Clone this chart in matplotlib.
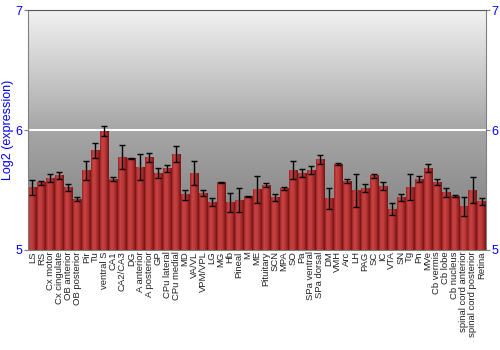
import numpy as np
import matplotlib
matplotlib.use("Agg")
import matplotlib.pyplot as plt
from matplotlib.colors import LinearSegmentedColormap

plt.rcParams['font.family'] = ['Liberation Sans', 'DejaVu Sans']

regions = ["LS", "RS", "Cx motor", "Cx cingulate", "OB anterior", "OB posterior",
           "Pir", "Tu", "ventral S", "CA1", "CA2/CA3", "DG", "A anterior",
           "A posterior", "GP", "CPu lateral", "CPu medial", "MD", "VA/VL",
           "VPM/VPL", "LG", "MG", "Hb", "Pineal", "M", "ME", "Pituitary", "SCN",
           "MPA", "SO", "Pa", "SPa ventral", "SPa dorsal", "DM", "VMH", "Arc",
           "LH", "PAG", "SC", "IC", "VTA", "SN", "Tg", "Pn", "MVe", "Cb vermis",
           "Cb lobe", "Cb nucleus", "spinal cord anterior",
           "spinal cord posterior", "Retina"]

expr = [5.52, 5.56, 5.60, 5.62, 5.52, 5.425, 5.66, 5.83, 5.99, 5.59, 5.775,
        5.76, 5.69, 5.77, 5.64, 5.68, 5.80, 5.46, 5.64, 5.475, 5.40, 5.56,
        5.395, 5.417, 5.444, 5.505, 5.54, 5.44, 5.51, 5.667, 5.64, 5.667,
        5.755, 5.43, 5.717, 5.575, 5.494, 5.517, 5.62, 5.533, 5.34, 5.44,
        5.525, 5.59, 5.683, 5.567, 5.48, 5.45, 5.36, 5.50, 5.405]

err = [0.06, 0.015, 0.035, 0.03, 0.027, 0.02, 0.08, 0.064, 0.04, 0.018, 0.10,
       0.005, 0.107, 0.04, 0.04, 0.028, 0.064, 0.04, 0.10, 0.022, 0.037,
       0.006, 0.076, 0.10, 0.005, 0.11, 0.014, 0.028, 0.014, 0.075, 0.036,
       0.03, 0.04, 0.09, 0.012, 0.015, 0.135, 0.03, 0.017, 0.035, 0.053,
       0.028, 0.108, 0.025, 0.036, 0.028, 0.04, 0.008, 0.08, 0.11, 0.03]

x = np.arange(len(regions))
blue = '#0000ff'

fig = plt.figure(figsize=(5, 3.5), dpi=100, facecolor='white')
ax = fig.add_axes([0.056, 0.286, 0.916, 0.685])
ax.set_xlim(-0.5, len(regions) - 0.5)
ax.set_ylim(5, 7)

# grey vertical gradient background
bg = LinearSegmentedColormap.from_list('bg', ['#7a7a7a', '#a6a6a6', '#f2f2f2'])
grad = np.linspace(0, 1, 256).reshape(-1, 1)
ax.imshow(grad, cmap=bg, origin='lower', aspect='auto',
          extent=(-0.5, len(regions) - 0.5, 5, 7), zorder=0)

ax.axhline(6, color='white', lw=1.5, zorder=1)

bars = ax.bar(x, np.array(expr) - 5, bottom=5, width=0.9, color='none',
              edgecolor='none', zorder=2)

# red horizontal shading inside each bar
red = LinearSegmentedColormap.from_list(
    'red', ['#9c2222', '#c84444', '#c03c3c', '#a42a2a', '#701414'])
hgrad = np.linspace(0, 1, 64).reshape(1, -1)
for b in bars:
    x0, y0 = b.get_x(), b.get_y()
    ax.imshow(hgrad, cmap=red, aspect='auto', zorder=2,
              extent=(x0, x0 + b.get_width(), y0, y0 + b.get_height()))

ax.errorbar(x, expr, yerr=err, fmt='none', ecolor='black', elinewidth=1,
            capsize=2, capthick=1, zorder=3)

ax.set_xticks(x)
ax.set_xticklabels(regions, rotation=90, fontsize=6.8, color='#222222')
ax.tick_params(axis='x', length=0, pad=1)

ax.set_yticks([5, 6, 7])
ax.tick_params(axis='y', colors='#808080', labelcolor=blue, labelsize=9,
               length=3, left=True, right=True, labelleft=True,
               labelright=True, pad=1)
ax.set_ylabel('Log2 (expression)', color=blue, fontsize=9, labelpad=1)

for s in ax.spines.values():
    s.set_color('#808080')
    s.set_linewidth(0.8)
ax.spines['top'].set_color('#555555')

fig.savefig('out.png', dpi=100, facecolor='white')
